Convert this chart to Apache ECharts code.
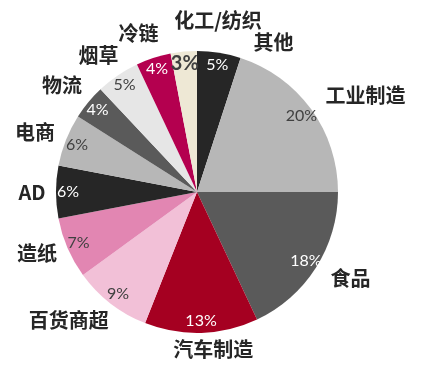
<!DOCTYPE html>
<html>
<head>
<meta charset="utf-8">
<script src="https://cdn.jsdelivr.net/npm/echarts@6/dist/echarts.min.js"></script>
<style>
html,body{margin:0;padding:0;background:#fff;}
#c{width:426px;height:374px;}
</style>
</head>
<body>
<div id="c"></div>
<script>
// ---- data ----
var categories = ['其他','工业制造','食品','汽车制造','百货商超','造纸','AD','电商','物流','烟草','冷链','化工/纺织'];
var shares = [5,20,18,13,9,7,6,6,4,5,4,3];

// ---- styles ----
var colors = ['#262626','#b7b7b7','#5a5a5a','#a50021','#f2c0d7','#e286b2','#262626','#b7b7b7','#5a5a5a','#e6e6e6','#b4004f','#eee8d5'];
var pctColors = ['#ffffff','#404040','#ffffff','#ffffff','#404040','#404040','#ffffff','#404040','#ffffff','#404040','#ffffff','#404040'];
var pctSizes = [16,16,16,16,16,16,16,16,16,16,16,20];
// label placement tweaks relative to a point 170px out along each slice's mid-angle
var labelOffsets = [[50,18],[31,3],[10,-5],[11,-13],[-24,-6],[-4,-6],[5,0],[-4,3],[-4,2],[-3,4],[-6,3],[37,-2]];

var CX = 197, CY = 192, R = 141, LABEL_R = 170;

var total = shares.reduce(function(a,b){return a+b;},0);
var midAngles = [];
(function(){
  var acc = 0;
  for (var i=0;i<shares.length;i++){
    midAngles.push((acc + shares[i]/2)/total*2*Math.PI);
    acc += shares[i];
  }
})();

var chart = echarts.init(document.getElementById('c'), null, {renderer:'canvas'});

var outerData = categories.map(function(n,i){
  return {name:n, value:shares[i], itemStyle:{color:colors[i]}};
});
var innerData = categories.map(function(n,i){
  return {name:n, value:shares[i],
    label:{color:pctColors[i], fontSize:pctSizes[i], fontWeight: pctSizes[i] > 16 ? 'bold' : 'normal'}};
});

chart.setOption({
  animation:false,
  backgroundColor:'#fff',
  series:[
    {
      type:'pie',
      center:[CX,CY],
      radius:[0,R],
      startAngle:90,
      clockwise:true,
      silent:true,
      avoidLabelOverlap:false,
      data:outerData,
      itemStyle:{borderWidth:0},
      label:{
        show:true,
        position:'outside',
        alignTo:'none',
        overflow:'none',
        formatter:'{b}',
        fontFamily:'"Noto Sans CJK SC", sans-serif',
        fontWeight:'bold',
        fontSize:20,
        color:'#262626'
      },
      labelLine:{show:false},
      labelLayout:function(p){
        var i = p.dataIndex;
        var a = midAngles[i];
        return {
          x: CX + Math.sin(a)*LABEL_R + labelOffsets[i][0],
          y: CY - Math.cos(a)*LABEL_R + labelOffsets[i][1],
          align:'center',
          verticalAlign:'middle',
          hideOverlap:false
        };
      }
    },
    {
      type:'pie',
      center:[CX,CY],
      radius:[111,R],
      startAngle:90,
      clockwise:true,
      silent:true,
      avoidLabelOverlap:false,
      data:innerData,
      itemStyle:{color:'transparent',borderWidth:0},
      label:{
        show:true,
        position:'inside',
        overflow:'none',
        formatter:'{c}%',
        fontFamily:'Lato, sans-serif',
        fontSize:16
      },
      labelLine:{show:false}
    }
  ]
});
</script>
</body>
</html>
